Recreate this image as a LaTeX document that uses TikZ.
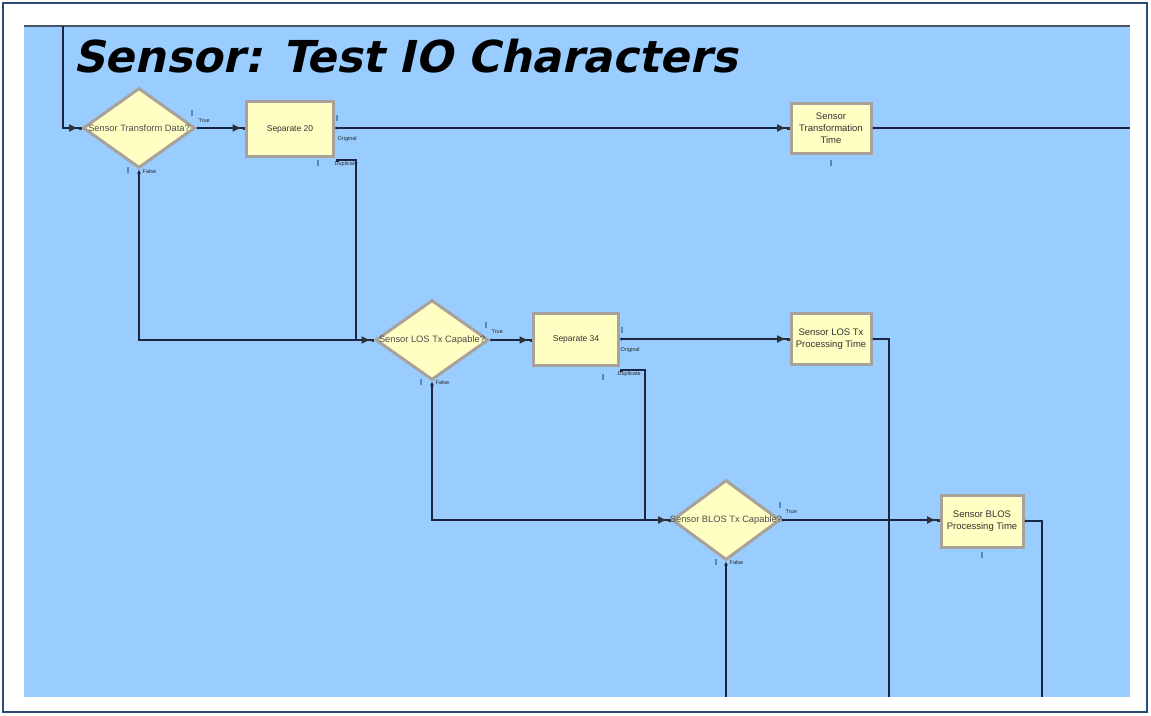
\documentclass[tikz,border=0pt]{standalone}
\usepackage{fontspec}
\setmainfont{Liberation Sans}
\newfontfamily\titlefont{DejaVu Sans}[FakeSlant=0.22, BoldFeatures={FakeSlant=0.22}]
\usetikzlibrary{shapes.geometric,arrows.meta,calc}
\definecolor{bgblue}{HTML}{99CCFF}
\definecolor{framec}{HTML}{2A4A78}
\definecolor{boxfill}{HTML}{FFFFC4}
\definecolor{boxedge}{HTML}{A8A29A}
\definecolor{linec}{HTML}{1B2740}
\definecolor{markc}{HTML}{5A86C0}
\definecolor{tipc}{HTML}{2E3136}
\tikzset{
  Ent/.tip={Latex[length=9pt,width=8pt,color=tipc,sep=1pt]Square[length=2.5pt,width=3pt,color=tipc]},
  Dot/.tip={Circle[length=2.5pt]},
  Sq/.tip={Square[length=2.5pt,width=3pt]},
  Fls/.tip={Latex[length=4pt,width=4pt]},
  proc/.style={rectangle, draw=boxedge, line width=3pt, fill=boxfill, align=center,
    font=\fontsize{9.5}{12}\selectfont, text=black!80, inner sep=1pt},
  sepbox/.style={proc, font=\fontsize{8.5}{10}\selectfont},
  decide/.style={diamond, draw=boxedge, line width=3pt, fill=boxfill, inner sep=0pt,
    minimum width=112pt, minimum height=80pt},
  dtext/.style={font=\fontsize{9.3}{10}\selectfont, text=black!70},
  conn/.style={draw=linec, line width=1.2pt},
  port/.style={font=\fontsize{5.5}{6}\selectfont, text=black!85, inner sep=0.5pt},
  mk/.style={fill=markc, minimum width=1.6pt, minimum height=6pt, inner sep=0pt, draw=none}
}
\begin{document}
\begin{tikzpicture}[x=1pt,y=-1pt]
\useasboundingbox (0,0) rectangle (1151,715);
% frame and canvas
\fill[white] (0,0) rectangle (1151,715);
\draw[framec, line width=2.5pt] (3,3) rectangle (1147,712);
\fill[bgblue] (24,26) rectangle (1130,697);
\draw[linec!80, line width=1.2pt] (24,26) -- (1130,26);
% title
\node[anchor=base west, inner sep=0pt, font=\titlefont\bfseries\fontsize{44}{44}\selectfont] (title) at (73,72) {Sensor: Test IO Characters};
% nodes
\node[decide, label={[dtext]center:Sensor Transform Data?}] (d1) at (139,128) {};
\node[sepbox, minimum width=87pt, minimum height=55pt] (s20) at (290,129) {Separate 20};
\node[proc, minimum width=80pt, minimum height=50pt] (stt) at (831,128) {Sensor\\Transformation\\Time};
\node[decide, minimum width=113pt, label={[dtext]center:Sensor LOS Tx Capable?}] (d2) at (432,340) {};
\node[sepbox, minimum width=85pt, minimum height=52pt] (s34) at (576,339) {Separate 34};
\node[proc, minimum width=80pt, minimum height=51pt] (los) at (831,339) {Sensor LOS Tx\\Processing Time};
\node[decide, minimum width=108pt, label={[dtext]center:Sensor BLOS Tx Capable?}] (d3) at (726,520) {};
\node[proc, minimum width=82pt, minimum height=52pt] (blos) at (982,521) {Sensor BLOS\\Processing Time};
% free ends
\coordinate (top1) at (63,26);
\coordinate (exitA) at (1130,128);
\coordinate (botA) at (726,697);
\coordinate (botB) at (889,697);
\coordinate (botC) at (1042,697);
\coordinate (dup20) at (336,160);
\coordinate (dup34) at (620,370);
% connectors
\draw[conn, -Ent] (top1) |- (d1.west);
\draw[conn, Dot-Ent] (d1.east) -- (s20.west |- d1.east);
\draw[conn, Dot-Ent] (s20.east |- stt.west) -- (stt.west);
\draw[conn, Dot-] (stt.east) -- (exitA);
\draw[conn, Fls-] (d1.south) |- (356,340);
\draw[conn, Sq-Ent] (dup20) -| (356,340) -- (d2.west);
\draw[conn, Dot-Ent] (d2.east) -- (s34.west |- d2.east);
\draw[conn, Dot-Ent] (s34.east) -- (los.west);
\draw[conn, Dot-] (los.east) -| (botB);
\draw[conn, Fls-] (d2.south) |- (645,520);
\draw[conn, Sq-Ent] (dup34) -| (645,520) -- (d3.west);
\draw[conn, Dot-Ent] (d3.east) -- (blos.west |- d3.east);
\draw[conn, Fls-] (d3.south) -- (botA);
\draw[conn, Dot-] (blos.east) -| (botC);
% port labels
\node[port, anchor=west] (t1) at (198,121) {True};
\node[port, anchor=west] (f1) at (142,172) {False};
\node[port, anchor=west] (o20) at (337,139) {Original};
\node[port, anchor=west] (u20) at (334,164) {Duplicate};
\node[port, anchor=west] (t2) at (491,332) {True};
\node[port, anchor=west] (f2) at (435,383) {False};
\node[port, anchor=west] (o34) at (620,350) {Original};
\node[port, anchor=west] (u34) at (617,374) {Duplicate};
\node[port, anchor=west] (t3) at (785,512) {True};
\node[port, anchor=west] (f3) at (729,563) {False};
% animation markers
\foreach \p/\q in {192/113, 128/170, 337/118, 318/163, 831/163, 486/325, 421/382, 622/330, 603/377, 780/505, 716/562, 982/555}
  \node[mk] at (\p,\q) {};
\end{tikzpicture}
\end{document}
